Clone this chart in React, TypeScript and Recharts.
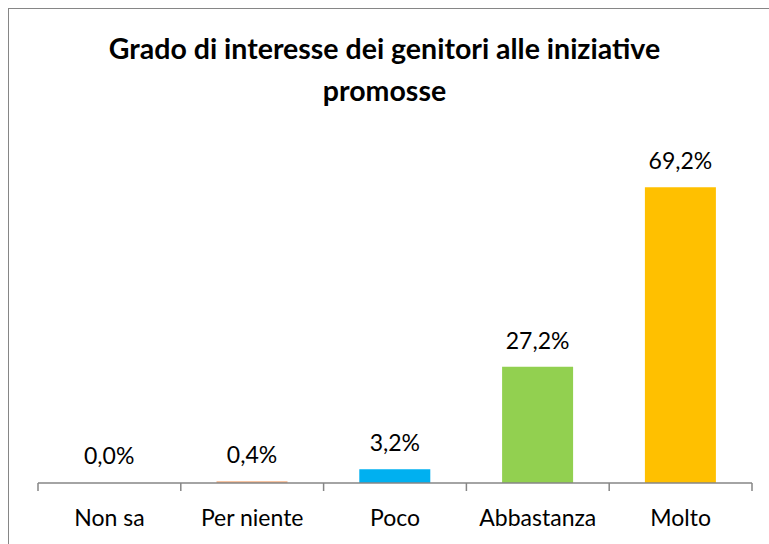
import { BarChart, Bar, XAxis, YAxis, Cell, LabelList } from 'recharts';

const categories = ['Non sa', 'Per niente', 'Poco', 'Abbastanza', 'Molto'];
const values = [0.0, 0.4, 3.2, 27.2, 69.2];
const colors = ['transparent', '#F4B183', '#00B0F0', '#92D050', '#FFC000'];

const axisGray = '#868686';
const font = 'Lato, "Noto Sans", sans-serif';

const data = categories.map((name, i) => ({ name, value: values[i], fill: colors[i] }));

const formatPct = (v: number): string => `${v.toFixed(1).replace('.', ',')}%`;

// tick marks sit on the band edges, labels in the middle
const CategoryTick = (props: any) => {
  const { x, y, payload, index, visibleTicksCount } = props;
  const half = payload?.offset ?? 0;
  const axisY = y - 27;
  const isLast = index === visibleTicksCount - 1;
  return (
    <g>
      <line x1={x - half} x2={x - half} y1={axisY} y2={axisY + 8} stroke={axisGray} strokeWidth={1.5} />
      {isLast && (
        <line x1={x + half} x2={x + half} y1={axisY} y2={axisY + 8} stroke={axisGray} strokeWidth={1.5} />
      )}
      <text x={x} y={y} dy="0.71em" textAnchor="middle" fontSize={23} fill="#000" fontFamily={font}>
        {payload.value}
      </text>
    </g>
  );
};

export default function App() {
  return (
    <div
      style={{
        position: 'absolute',
        left: 0,
        top: 0,
        width: 769,
        height: 544,
        overflow: 'hidden',
        background: '#fff',
        fontFamily: font,
      }}
    >
      <div
        style={{
          position: 'absolute',
          left: 8,
          top: 8,
          width: 800,
          height: 600,
          border: `1.5px solid ${axisGray}`,
        }}
      />
      <div
        style={{
          position: 'absolute',
          left: 0,
          top: 27,
          width: 769,
          textAlign: 'center',
          fontWeight: 700,
          fontSize: 28.5,
          lineHeight: '42px',
          color: '#000',
        }}
      >
        Grado di interesse dei genitori alle iniziative
        <br />
        promosse
      </div>
      <div style={{ position: 'absolute', left: 0, top: 0 }}>
        <BarChart
          width={769}
          height={544}
          data={data}
          margin={{ top: 141, right: 17, left: 38, bottom: 11 }}
          barCategoryGap="25%"
        >
          <XAxis
            dataKey="name"
            height={50}
            axisLine={{ stroke: axisGray, strokeWidth: 1.5 }}
            tickLine={false}
            tickSize={0}
            tickMargin={27}
            interval={0}
            tick={<CategoryTick />}
          />
          <YAxis
            type="number"
            domain={[0, 80]}
            width={0}
            tick={false}
            axisLine={false}
            tickLine={false}
          />
          <Bar dataKey="value" minPointSize={1} isAnimationActive={false}>
            {data.map((d) => (
              <Cell key={d.name} fill={d.fill} />
            ))}
            <LabelList
              dataKey="value"
              position="top"
              offset={18}
              formatter={(v: any) => formatPct(Number(v))}
              fontSize={23}
              fill="#000"
              fontFamily={font}
            />
          </Bar>
        </BarChart>
      </div>
    </div>
  );
}
